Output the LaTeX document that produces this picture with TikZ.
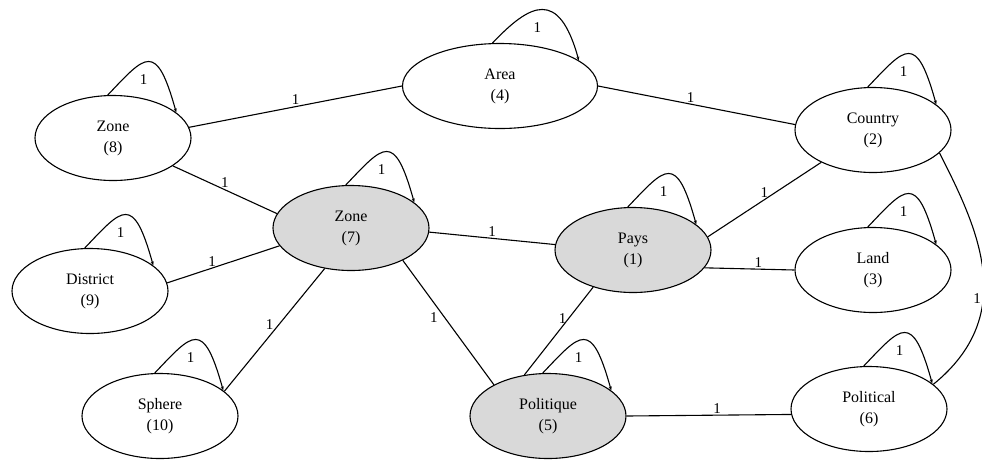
\documentclass[tikz,border=0pt]{standalone}
\usepackage{fontspec}
\setmainfont{Liberation Serif}
\usetikzlibrary{shapes.geometric,arrows.meta}
\definecolor{nodegrey}{RGB}{217,217,217}

\begin{document}
\begin{tikzpicture}[x=1pt,y=-1pt,
    main_node/.style={ellipse,draw,line width=1.1pt,minimum width=156pt,minimum height=85pt,inner sep=0pt,align=center,font=\fontsize{16}{21}\selectfont},
    grey_node/.style={main_node,fill=nodegrey},
    lbl/.style={font=\fontsize{15}{16}\selectfont,inner sep=1.5pt},
    loop_edge/.style={line width=1.1pt,-{Stealth[length=4pt,width=3pt]}}]
    \useasboundingbox (0,0) rectangle (982,459);
	\node[grey_node] (1) at (633,250) {Pays\\(1)};
    \node[main_node] (2) at (873,130) {Country\\(2)};
    \node[main_node] (3) at (873,270) {Land\\(3)};
    \node[main_node,minimum width=195pt] (4) at (500,86) {Area\\(4)};
    \node[grey_node] (5) at (548,416) {Politique\\(5)};
    \node[main_node] (6) at (869,409) {Political\\(6)};
    \node[grey_node] (7) at (351,228) {Zone\\(7)};
    \node[main_node] (8) at (113,138) {Zone\\(8)};
    \node[main_node] (9) at (90,291) {District\\(9)};
    \node[main_node] (10) at (160,416) {Sphere\\(10)};
\begin{scope}[line width=1.1pt]
\draw (8.8) -- node[lbl,above]{1} (4.west);
\draw (4.east) -- node[lbl,above,pos=.47]{1} (2.176);
\draw (8.-25) -- node[lbl,above]{1} (7.169);
\draw (9.6) -- node[lbl,above,pos=.4]{1} (7.194);
\draw (10.21) -- node[lbl,left,pos=.54,xshift=-3pt]{1} (7.237);
\draw (7.-3) -- node[lbl,above]{1} (1.176);
\draw (7.-32) -- node[lbl,left,pos=.46,xshift=-5pt]{1} (5.150);
\draw (1.10) -- node[lbl,above]{1} (2.212);
\draw (1.-14) -- node[lbl,above,pos=.6]{1} (3.west);
\draw (1.223) -- node[lbl,left,pos=.36]{1} (5.120);
\draw (5.east) -- node[lbl,above,pos=.55]{1} (6.184);
\draw (2.-19) .. controls +(38,75) and +(86,-70) .. node[lbl,pos=.62,xshift=-6pt]{1} (6.21);
\end{scope}
% self loops
\foreach \n/\a/\b in {1/97/22,2/97/22,3/97/22,5/97/22,6/97/22,7/97/22,8/97/22,9/97/22,10/97/22,4/100/18}
    \draw[loop_edge] (\n.\a) .. controls +(38,-40) and +(-20,-72) .. node[lbl,pos=.5,xshift=-5pt,yshift=-18pt]{1} (\n.\b);
\end{tikzpicture}
\end{document}
